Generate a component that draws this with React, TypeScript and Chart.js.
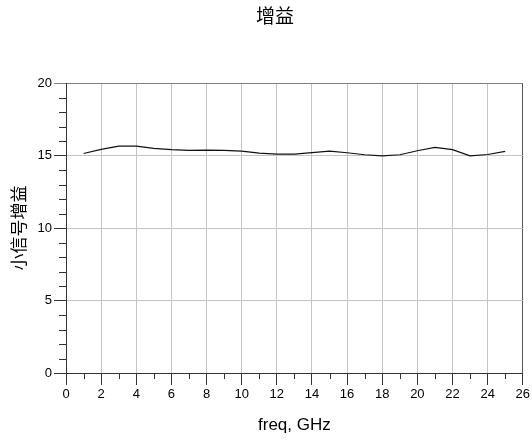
import React, { useEffect, useRef } from "react";
import { Chart, registerables } from "chart.js";

Chart.register(...registerables);

const chartTitle = "增益";
const xAxisTitle = "freq, GHz";
const yAxisTitle = "小信号增益";
const freqGHz = [1, 2, 3, 4, 5, 6, 7, 8, 9, 10, 11, 12, 13, 14, 15, 16, 17, 18, 19, 20, 21, 22, 23, 24, 25];
const gainDb = [15.14, 15.42, 15.65, 15.65, 15.49, 15.4, 15.35, 15.37, 15.35, 15.3, 15.16, 15.09, 15.09, 15.2, 15.3, 15.19, 15.05, 14.98, 15.05, 15.33, 15.56, 15.4, 14.98, 15.07, 15.28];
const xMin = 0;
const xMax = 26;
const xStep = 2;
const xMinorStep = 1;
const yMin = 0;
const yMax = 20;
const yStep = 5;
const yMinorStep = 1;

const minorTicksPlugin = {
  id: "minorTicks",
  afterDraw(chart: any) {
    const { ctx, chartArea, scales } = chart;
    const xs = scales.x;
    const ys = scales.y;
    ctx.save();
    ctx.strokeStyle = "#333";
    ctx.lineWidth = 1;
    ctx.beginPath();
    for (let v = xMin + xMinorStep; v < xMax; v += xMinorStep) {
      if (v % xStep === 0) continue;
      const px = Math.round(xs.getPixelForValue(v)) + 0.5;
      ctx.moveTo(px, chartArea.bottom);
      ctx.lineTo(px, chartArea.bottom + 6);
    }
    for (let v = yMin + yMinorStep; v < yMax; v += yMinorStep) {
      if (v % yStep === 0) continue;
      const py = Math.round(ys.getPixelForValue(v)) + 0.5;
      ctx.moveTo(chartArea.left - 7, py);
      ctx.lineTo(chartArea.left, py);
    }
    ctx.stroke();
    ctx.restore();
  },
};

const titlePlugin = {
  id: "topTitle",
  afterDraw(chart: any) {
    const { ctx } = chart;
    ctx.save();
    ctx.fillStyle = "#000";
    ctx.font = '19px "Noto Sans CJK SC", sans-serif';
    ctx.textAlign = "center";
    ctx.textBaseline = "middle";
    ctx.fillText(chartTitle, 275, 16);
    ctx.restore();
  },
};

export default function App() {
  const canvasRef = useRef<HTMLCanvasElement | null>(null);

  useEffect(() => {
    if (!canvasRef.current) return;
    const chart = new Chart(canvasRef.current, {
      type: "line",
      data: {
        datasets: [
          {
            data: freqGHz.map((f, i) => ({ x: f, y: gainDb[i] })),
            borderColor: "#111",
            borderWidth: 1.2,
            pointRadius: 0,
            tension: 0,
            fill: false,
          },
        ],
      },
      options: {
        animation: false,
        responsive: false,
        maintainAspectRatio: false,
        layout: { padding: { left: 0, right: 7, top: 83, bottom: 0 } },
        plugins: {
          legend: { display: false },
          tooltip: { enabled: false },
          title: { display: false },
        },
        scales: {
          x: {
            type: "linear",
            min: xMin,
            max: xMax,
            afterFit: (s: any) => {
              s.height = 67;
            },
            border: { display: true, color: "#333", width: 1 },
            grid: {
              color: (c: any) => (c.tick && c.tick.value === xMax ? "#555" : "#c4c4c4"),
              tickColor: "#333",
              tickLength: 12,
              drawTicks: true,
            },
            ticks: {
              stepSize: xStep,
              padding: 2,
              color: "#000",
              font: { family: '"Liberation Sans", Arial, sans-serif', size: 13 },
              maxRotation: 0,
              autoSkip: false,
            },
            title: {
              display: true,
              text: xAxisTitle,
              color: "#000",
              font: { family: '"Liberation Sans", Arial, sans-serif', size: 17 },
              padding: { top: 0, bottom: 4 },
            },
          },
          y: {
            type: "linear",
            min: yMin,
            max: yMax,
            afterFit: (s: any) => {
              s.width = 66;
            },
            border: { display: true, color: "#333", width: 1 },
            grid: {
              color: (c: any) => (c.tick && c.tick.value === yMax ? "#808080" : "#c4c4c4"),
              tickColor: (c: any) => (c.tick && c.tick.value === yMax ? "#808080" : "#333"),
              tickLength: 12,
              drawTicks: true,
            },
            ticks: {
              stepSize: yStep,
              padding: 2,
              color: "#000",
              font: { family: '"Liberation Sans", Arial, sans-serif', size: 13 },
            },
            title: {
              display: true,
              text: yAxisTitle,
              color: "#000",
              font: { family: '"Noto Sans CJK SC", sans-serif', size: 17 },
              padding: { top: 8, bottom: 0 },
            },
          },
        },
      },
      plugins: [minorTicksPlugin, titlePlugin],
    });
    return () => chart.destroy();
  }, []);

  return (
    <div style={{ position: "fixed", left: 0, top: 0, width: 532, height: 440, background: "#fff" }}>
      <canvas ref={canvasRef} width={532} height={440} style={{ width: 532, height: 440, display: "block" }} />
    </div>
  );
}
